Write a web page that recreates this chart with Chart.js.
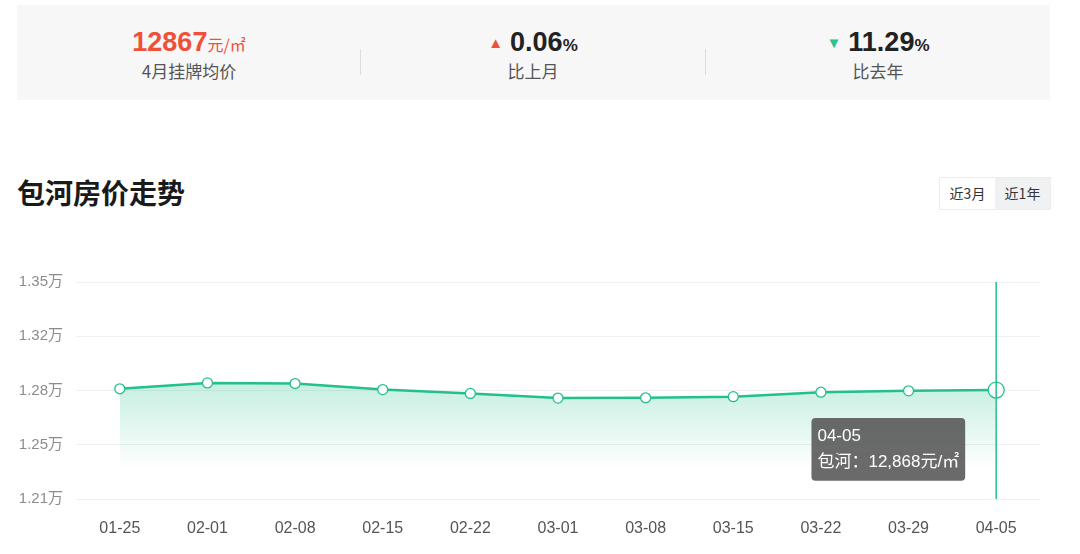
<!DOCTYPE html>
<html>
<head>
<meta charset="utf-8">
<script src="https://cdn.jsdelivr.net/npm/chart.js@4.4.4/dist/chart.umd.min.js"></script>
<style>
  html, body { margin: 0; padding: 0; background: #fff; }
  body {
    width: 1080px; height: 554px; position: relative; overflow: hidden;
    font-family: "Liberation Sans", Arial, "Noto Sans CJK SC", sans-serif;
    color: #222;
  }
  .stats {
    position: absolute; left: 17px; top: 5px; width: 1033px; height: 95px;
    background: #f7f7f7;
  }
  .stat { position: absolute; top: 0; width: 344px; height: 95px; text-align: center; }
  .stat .num { position: absolute; left: 0; right: 0; top: 21px; line-height: 32px; white-space: nowrap; }
  .stat .num b { font-size: 27px; font-weight: bold; }
  .stat .num small { font-size: 16px; font-family: "Noto Sans CJK SC", sans-serif; }
  .stat .num .pct { font-size: 17px; font-weight: bold; font-family: "Liberation Sans", Arial, sans-serif; }
  .stat .lbl {
    position: absolute; left: 0; right: 0; top: 53px; font-size: 17px; color: #555;
    font-family: "Noto Sans CJK SC", sans-serif;
  }
  .red { color: #ef5038; }
  .tri { font-size: 15px; vertical-align: 3px; margin-right: 7px; }
  .divider { position: absolute; top: 44px; width: 1px; height: 26px; background: #dcdcdc; }
  h2 {
    position: absolute; left: 17px; top: 172px; margin: 0;
    font-family: "Noto Sans CJK SC", sans-serif; font-size: 28px; font-weight: bold; color: #1a1a1a;
    line-height: 40px;
  }
  .tabs {
    position: absolute; left: 939px; top: 177px; height: 31px; border: 1px solid #ececec;
    display: flex; font-family: "Noto Sans CJK SC", sans-serif; font-size: 14px; color: #333;
  }
  .tabs span { display: block; width: 55px; line-height: 31px; text-align: center; }
  .tabs span.on { background: #f0f1f3; }
  .chart-wrap { position: absolute; left: 0; top: 260px; width: 1080px; height: 294px; }
</style>
</head>
<body>
  <div class="stats">
    <div class="stat" style="left:0">
      <div class="num red"><b>12867</b><small>元/㎡</small></div>
      <div class="lbl">4月挂牌均价</div>
    </div>
    <div class="divider" style="left:343px"></div>
    <div class="stat" style="left:344px">
      <div class="num"><span class="tri red">▲</span><b>0.06</b><span class="pct">%</span></div>
      <div class="lbl">比上月</div>
    </div>
    <div class="divider" style="left:688px"></div>
    <div class="stat" style="left:689px">
      <div class="num"><span class="tri" style="color:#2bc28e">▼</span><b>11.29</b><span class="pct">%</span></div>
      <div class="lbl">比去年</div>
    </div>
  </div>

  <h2>包河房价走势</h2>
  <div class="tabs"><span>近3月</span><span class="on">近1年</span></div>

  <div class="chart-wrap"><canvas id="trend"></canvas></div>

<script>
// weekly listing price, 元/㎡
const weeks = ['01-25', '02-01', '02-08', '02-15', '02-22', '03-01', '03-08', '03-15', '03-22', '03-29', '04-05'];
const prices = [12876, 12914, 12910, 12871, 12846, 12816, 12818, 12825, 12854, 12863, 12868];
const areaName = '包河';
const yMin = 12165;
const yMax = 13565;
const yStep = 350;

const GREEN = '#24c08c';
const fontLatin = '"Liberation Sans", Arial, "Noto Sans CJK SC", sans-serif';

// crosshair on the active point, full chart-area height
const crosshair = {
  id: 'crosshair',
  afterDatasetsDraw(chart) {
    const act = chart.getActiveElements();
    if (!act.length) return;
    const { ctx, chartArea } = chart;
    const x = act[0].element.x;
    ctx.save();
    ctx.strokeStyle = GREEN;
    ctx.lineWidth = 1.5;
    ctx.beginPath();
    ctx.moveTo(x, chartArea.top);
    ctx.lineTo(x, chartArea.bottom);
    ctx.stroke();
    ctx.restore();
  },
};

Chart.Tooltip.positioners.belowLeft = function (elements) {
  if (!elements.length) return false;
  const el = elements[0].element;
  return { x: el.x - 35, y: el.y + 28 };
};

const chart = new Chart(document.getElementById('trend'), {
  type: 'line',
  data: {
    labels: weeks,
    datasets: [{
      label: areaName,
      data: prices,
      borderColor: GREEN,
      borderWidth: 2.5,
      tension: 0,
      fill: 'start',
      backgroundColor: (c) => {
        const { chart } = c;
        const area = chart.chartArea;
        if (!area) return 'rgba(36,192,140,0.15)';
        const g = chart.ctx.createLinearGradient(0, area.top + 95, 0, area.bottom - 30);
        g.addColorStop(0, 'rgba(36,192,140,0.28)');
        g.addColorStop(1, 'rgba(36,192,140,0)');
        return g;
      },
      pointRadius: 5,
      pointBorderWidth: 1.3,
      pointBackgroundColor: '#fff',
      pointBorderColor: GREEN,
      pointHoverRadius: 8,
      pointHoverBorderWidth: 1.3,
      pointHoverBackgroundColor: '#fff',
      pointHoverBorderColor: GREEN,
    }],
  },
  plugins: [crosshair],
  options: {
    responsive: true,
    maintainAspectRatio: false,
    animation: false,
    events: [],
    layout: { padding: { left: 0, right: 40, top: 21, bottom: 0 } },
    plugins: {
      legend: { display: false },
      tooltip: {
        enabled: true,
        position: 'belowLeft',
        xAlign: 'right',
        yAlign: 'top',
        caretSize: 0,
        caretPadding: 0,
        cornerRadius: 4,
        displayColors: false,
        backgroundColor: 'rgba(90,90,90,0.9)',
        titleColor: '#fff',
        bodyColor: '#fff',
        titleFont: { family: fontLatin, size: 17, weight: 'normal' },
        bodyFont: { family: fontLatin, size: 17 },
        titleMarginBottom: 6,
        padding: { left: 6, right: 6, top: 8, bottom: 8 },
        callbacks: {
          label: (ctx) => `${ctx.dataset.label}：${ctx.parsed.y.toLocaleString('en-US')}元/㎡`,
        },
      },
    },
    scales: {
      x: {
        offset: true,
        grid: { display: false },
        border: { display: false },
        ticks: { color: '#555', font: { family: fontLatin, size: 16 }, padding: 12, maxRotation: 0 },
        afterFit: (s) => { s.height = 55; },
      },
      y: {
        min: yMin,
        max: yMax,
        grid: { color: '#f0f0f0', drawTicks: false, lineWidth: 1 },
        border: { display: false },
        ticks: {
          stepSize: yStep,
          color: '#8c8c8c',
          padding: 13,
          font: { family: fontLatin, size: 15 },
          callback: (v) => (Math.floor(v / 100) / 100).toFixed(2) + '万',
        },
        afterFit: (s) => { s.width = 76; },
      },
    },
  },
});

const last = prices.length - 1;
chart.setActiveElements([{ datasetIndex: 0, index: last }]);
chart.tooltip.setActiveElements([{ datasetIndex: 0, index: last }], { x: 0, y: 0 });
chart.update();
</script>
</body>
</html>
